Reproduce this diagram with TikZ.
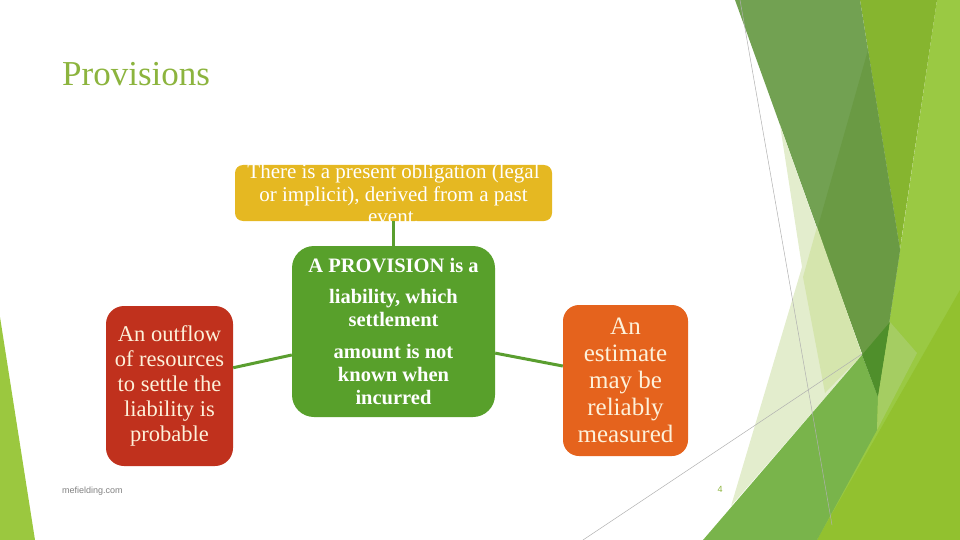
\documentclass[tikz,border=0pt]{standalone}
\usepackage{fontspec}
\setmainfont{Liberation Serif}
\newfontfamily\footfont{Liberation Sans}
\usetikzlibrary{calc}

\definecolor{titlegreen}{HTML}{8CB43E}
\definecolor{obliggold}{HTML}{E5B822}
\definecolor{provgreen}{HTML}{58A02B}
\definecolor{outflowred}{HTML}{C0311D}
\definecolor{estorange}{HTML}{E5631D}
\definecolor{cream}{HTML}{FDF1DA}
\definecolor{linkgreen}{HTML}{5A9E2F}
% facet colours
\definecolor{facetA}{HTML}{9BC83F}
\definecolor{facetB}{HTML}{9AC943}
\definecolor{facetC}{HTML}{92C12F}
\definecolor{facetD}{HTML}{86B52F}
\definecolor{facetE}{HTML}{72A152}
\definecolor{facetF}{HTML}{6A9A44}
\definecolor{facetG}{HTML}{E3EDCD}
\definecolor{facetK}{HTML}{D5E5AD}
\definecolor{facetH}{HTML}{79B44B}
\definecolor{facetI}{HTML}{4F8F2B}
\definecolor{facetJ}{HTML}{A5CD62}
\definecolor{guidegray}{HTML}{B0B0B0}

\begin{document}
\begin{tikzpicture}[x=1pt, y=-1pt, line cap=round, line join=round,
    box/.style={rounded corners=#1, inner sep=0pt},
    link/.style={linkgreen, line width=3pt, line cap=butt}]
    \useasboundingbox (0,0) rectangle (960,540);

    % --- background facets ---
    \begin{scope}
      \fill[facetA] (0,317) -- (35,540) -- (0,540) -- cycle;
      \fill[facetB] (937,0) -- (960,0) -- (960,540) -- (817,540) -- (878,397) -- (900,250) -- cycle;
      \fill[facetC] (817,540) -- (960,290) -- (960,540) -- cycle;
      \fill[facetD] (860,0) -- (937,0) -- (902,235) -- (900,250) -- cycle;
      \fill[facetE] (735,0) -- (860,0) -- (900,250) -- (878,397) -- cycle;
      \fill[facetF] (868,50) -- (900,250) -- (878,397) -- (817,230) -- cycle;
      \fill[facetG] (780,125) -- (802,267) -- (731,506) -- (862,355) -- cycle;
      \fill[facetK] (817,227) -- (803,277) -- (825,393) -- (862,355) -- cycle;
      \fill[facetH] (703,540) -- (862,355) -- (878,397) -- (877,430) -- (817,540) -- cycle;
      \fill[facetI] (862,355) -- (890,322) -- (878,397) -- cycle;
      \fill[facetJ] (890,322) -- (917,353) -- (877,430) -- (878,397) -- cycle;
      % thin guide lines
      \draw[guidegray, line width=0.5pt] (740,0) -- (832,525);
      \draw[guidegray, line width=0.5pt] (583,540) -- (862,354);
    \end{scope}

    % --- title and footer ---
    \node[anchor=base west, inner sep=0pt, text=titlegreen,
      font=\fontsize{35}{40}\selectfont] (title) at (62,86) {Provisions};
    \node[anchor=base west, inner sep=0pt, text=gray,
      font=\footfont\fontsize{9}{10}\selectfont] (site) at (62,493) {mefielding.com};
    \node[inner sep=0pt, text=titlegreen,
      font=\footfont\fontsize{9}{10}\selectfont] (pagenum) at (720,489) {4};

    % --- boxes ---
    \node[box=8, fill=obliggold, minimum width=317pt, minimum height=56pt]
      (obligation) at (393.5,193) {};
    \node[align=center, text=white, inner sep=0pt,
      font=\fontsize{21}{22.5}\selectfont] (obligtext) at (393.5,194)
      {There is a present obligation (legal\\ or implicit), derived from a past\\ event.};

    \node[box=22, fill=provgreen, minimum width=203pt, minimum height=171pt,
      text=white, align=center, font=\bfseries\fontsize{20.5}{23}\selectfont]
      (provision) at (393.5,331.5)
      {A PROVISION is a\\[8pt] liability, which\\ settlement\\[9pt] amount is not\\ known when\\ incurred};

    \node[box=18, fill=outflowred, minimum width=127pt, minimum height=160pt,
      text=cream, align=center, font=\fontsize{22.5}{25}\selectfont]
      (outflow) at (169.5,386)
      {An outflow\\ of resources\\ to settle the\\ liability is\\ probable};

    \node[box=16, fill=estorange, minimum width=125pt, minimum height=151pt,
      text=cream, align=center, font=\fontsize{25}{27}\selectfont]
      (estimate) at (625.5,380.5)
      {An\\ estimate\\ may be\\ reliably\\ measured};

    % connectors
    \draw[link] (obligation.south) -- (provision.north);
    \draw[link] (outflow.16) -- (provision.193);
    \draw[link] (provision.348) -- (estimate.167);
\end{tikzpicture}
\end{document}
